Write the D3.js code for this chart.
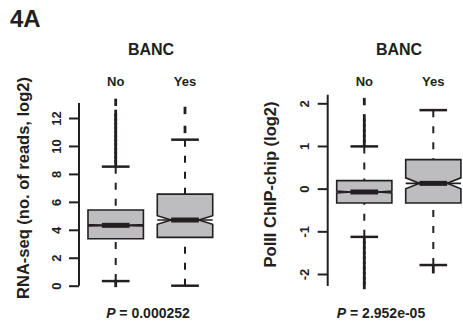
<!DOCTYPE html>
<html><head><meta charset="utf-8">
<script src="https://cdn.jsdelivr.net/npm/d3@7"></script>
<style>
body{margin:0;background:#fff;}
svg{display:block;font-family:"Liberation Sans",Arial,sans-serif;}
</style></head>
<body>
<svg id="chart" width="463" height="323"></svg>
<script>
// ---- data ----
const groups = ["No", "Yes"];
// Panel A1: RNA-seq (no. of reads, log2)
const rnaLow   = [0.33, 0.0];
const rnaQ1    = [3.36, 3.46];
const rnaMed   = [4.32, 4.70];
const rnaQ3    = [5.42, 6.55];
const rnaHigh  = [8.52, 10.45];
const rnaNotchLo = [4.27, 4.39];
const rnaNotchHi = [4.37, 5.01];
const rnaOutNo  = [0.16, 8.75, 9.05, 9.35, 9.65, 9.95, 10.25, 10.55, 10.85, 11.15, 11.45, 11.75, 12.05, 12.33, 13.12];
const rnaOutYes = [11.18, 12.54];
const rnaTicks = [0, 2, 4, 6, 8, 10, 12];
// Panel A2: PolII ChIP-chip (log2)
const chipLow  = [-1.13, -1.79];
const chipQ1   = [-0.335, -0.335];
const chipMed  = [-0.078, 0.124];
const chipQ3   = [0.187, 0.68];
const chipHigh = [0.99, 1.84];
const chipNotchLo = [-0.10, -0.005];
const chipNotchHi = [-0.056, 0.253];
const chipOutNo  = [1.06, 1.18, 1.30, 1.42, 1.54, 1.66, 2.04,
                    -1.20, -1.32, -1.44, -1.56, -1.68, -1.80, -1.92, -2.04, -2.16, -2.27];
const chipOutYes = [-1.90];
const chipTicks = [-2, -1, 0, 1, 2];

const ink = "#231f20";
const fillGrey = "#bdbdbf";
const svg = d3.select("#chart");

svg.append("text").attr("x", 10).attr("y", 27).attr("font-size", 24)
  .attr("font-weight", "bold").attr("fill", ink).text("4A");

function panel(cfg) {
  const g = svg.append("g");
  const x = d3.scalePoint().domain(groups).range(cfg.xr);
  const y = d3.scaleLinear().domain(cfg.ydom).range(cfg.yr);
  const step = x.step();
  const halfW = step * 0.4;

  // title
  g.append("text").attr("x", cfg.titleX).attr("y", 55).attr("text-anchor", "middle")
    .attr("font-size", 16).attr("font-weight", "bold").attr("fill", ink).text("BANC");
  // group labels
  groups.forEach(c => {
    g.append("text").attr("x", x(c)).attr("y", 86).attr("text-anchor", "middle")
      .attr("font-size", 13).attr("font-weight", "bold").attr("fill", ink).text(c);
  });

  // axis
  const ax = g.append("g").attr("transform", `translate(${cfg.axisX},0)`)
    .call(d3.axisLeft(y).tickValues(cfg.ticks).tickSize(10).tickSizeOuter(0).tickFormat(d => String(d)));
  ax.select(".domain").remove();
  ax.selectAll(".tick line").attr("stroke", ink).attr("stroke-width", 2);
  ax.selectAll(".tick text")
    .attr("x", null).attr("dy", null).attr("text-anchor", "middle")
    .attr("transform", "translate(-18.5,0) rotate(-90)")
    .attr("font-size", 13).attr("font-weight", "bold").attr("fill", ink)
    .attr("font-family", "Liberation Sans, Arial, sans-serif");
  g.append("line").attr("x1", cfg.axisX).attr("x2", cfg.axisX)
    .attr("y1", y(cfg.lineDom[0])).attr("y2", y(cfg.lineDom[1]))
    .attr("stroke", ink).attr("stroke-width", 2);

  // y title
  g.append("text").attr("transform", `translate(${cfg.ytX},${cfg.ytY}) rotate(-90)`)
    .attr("text-anchor", "middle").attr("font-size", 16.5).attr("font-weight", "bold")
    .attr("fill", ink).text(cfg.ytitle);

  // p-value
  const pt = g.append("text").attr("x", cfg.pX).attr("y", 318).attr("text-anchor", "middle")
    .attr("font-size", 14).attr("font-weight", "bold").attr("fill", ink);
  pt.append("tspan").attr("font-style", "italic").text("P");
  pt.append("tspan").text(" = " + cfg.pval);

  groups.forEach((c, i) => {
    const cx = x(c);
    const d = cfg.data;
    // whiskers (dashed, drawn from whisker end toward box)
    [[d.high[i], d.q3[i]], [d.low[i], d.q1[i]]].forEach(([a, b]) => {
      g.append("line").attr("x1", cx).attr("x2", cx).attr("y1", y(a)).attr("y2", y(b))
        .attr("stroke", ink).attr("stroke-width", 2).attr("stroke-dasharray", "7,9");
    });
    // caps
    [d.high[i], d.low[i]].forEach(v => {
      g.append("line").attr("x1", cx - halfW / 2).attr("x2", cx + halfW / 2)
        .attr("y1", y(v)).attr("y2", y(v)).attr("stroke", ink).attr("stroke-width", 2.5);
    });
    // outliers as vertical ticks
    d.out[i].forEach(v => {
      g.append("line").attr("x1", cx).attr("x2", cx).attr("y1", y(v) - 3.7).attr("y2", y(v) + 3.7)
        .attr("stroke", ink).attr("stroke-width", 2.8);
    });
    // notched box
    const nf = 0.5;
    const pts = [
      [cx - halfW, y(d.q1[i])], [cx + halfW, y(d.q1[i])],
      [cx + halfW, y(d.nlo[i])], [cx + halfW * nf, y(d.med[i])],
      [cx + halfW, y(d.nhi[i])], [cx + halfW, y(d.q3[i])],
      [cx - halfW, y(d.q3[i])], [cx - halfW, y(d.nhi[i])],
      [cx - halfW * nf, y(d.med[i])], [cx - halfW, y(d.nlo[i])]
    ];
    g.append("polygon").attr("points", pts.map(p => p.join(",")).join(" "))
      .attr("fill", fillGrey).attr("stroke", ink).attr("stroke-width", 1.6)
      .attr("stroke-linejoin", "miter");
    // median thin line + thick bar
    g.append("line").attr("x1", cx - halfW).attr("x2", cx + halfW)
      .attr("y1", y(d.med[i])).attr("y2", y(d.med[i])).attr("stroke", ink).attr("stroke-width", 1.6);
    g.append("line").attr("x1", cx - halfW * nf).attr("x2", cx + halfW * nf)
      .attr("y1", y(d.med[i])).attr("y2", y(d.med[i])).attr("stroke", ink).attr("stroke-width", 5);
  });
}

panel({
  xr: [115.7, 185], ydom: [0, 12], yr: [285.7, 118], axisX: 79, ticks: rnaTicks,
  lineDom: [0, 13.08], titleX: 151, ytitle: "RNA-seq (no. of reads, log2)", ytX: 28.5, ytY: 188,
  pX: 148, pval: "0.000252",
  data: {low: rnaLow, q1: rnaQ1, med: rnaMed, q3: rnaQ3, high: rnaHigh, nlo: rnaNotchLo, nhi: rnaNotchHi,
         out: [rnaOutNo, rnaOutYes]}
});
panel({
  xr: [364.3, 433.3], ydom: [-2, 2], yr: [274, 103.3], axisX: 327.7, ticks: chipTicks,
  lineDom: [-2.28, 2.2], titleX: 399, ytitle: "PolII ChIP-chip (log2)", ytX: 275.5, ytY: 184.5,
  pX: 381, pval: "2.952e-05",
  data: {low: chipLow, q1: chipQ1, med: chipMed, q3: chipQ3, high: chipHigh, nlo: chipNotchLo, nhi: chipNotchHi,
         out: [chipOutNo, chipOutYes]}
});
</script>
</body></html>
